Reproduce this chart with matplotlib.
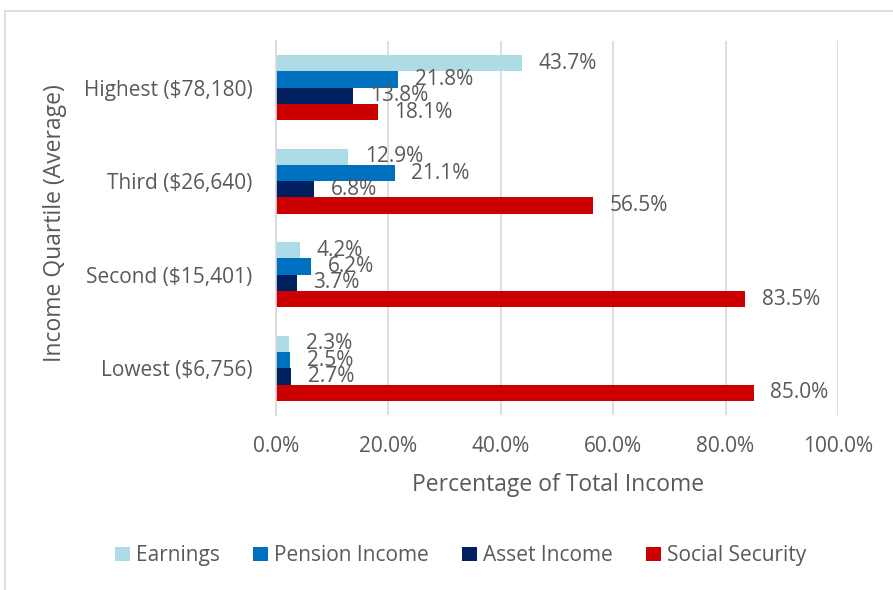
#!/usr/bin/env python3

import numpy as np
import matplotlib
matplotlib.use("Agg")
import matplotlib.pyplot as plt
from matplotlib.patches import Rectangle

# data (bottom to top on the chart)
quartiles = ["Lowest ($6,756)", "Second ($15,401)", "Third ($26,640)", "Highest ($78,180)"]
series = ["Earnings", "Pension Income", "Asset Income", "Social Security"]
earnings = [2.3, 4.2, 12.9, 43.7]
pension = [2.5, 6.2, 21.1, 21.8]
asset = [2.7, 3.7, 6.8, 13.8]
social_security = [85.0, 83.5, 56.5, 18.1]
colors = ["#ADDCE6", "#0070C0", "#002060", "#CC0000"]

plt.rcParams["font.family"] = ["Open Sans", "DejaVu Sans"]
text_color = "#595959"

fig = plt.figure(figsize=(8.93, 5.9), dpi=100)
ax = fig.add_axes([0.309, 0.2966, 0.6293, 0.634])

# light outer chart border
fig.patches.append(Rectangle((0.006, -0.01), 1.2, 0.991, transform=fig.transFigure,
                             fill=False, edgecolor="#D9D9D9", linewidth=1.2))

y = np.arange(len(quartiles))
h = 0.174
values = [earnings, pension, asset, social_security]
for i, (name, vals, c) in enumerate(zip(series, values, colors)):
    pos = y + (1.5 - i) * h
    ax.barh(pos, vals, height=h, color=c, label=name, zorder=3)
    for p, v in zip(pos, vals):
        ax.annotate(f"{v:.1f}%", (v, p), xytext=(12, 0), textcoords="offset points",
                    va="center", ha="left", fontsize=15, color=text_color, zorder=4)

ax.set_xlim(0, 100)
ax.set_ylim(-0.5, 3.5)
ax.set_xticks(np.arange(0, 101, 20))
ax.set_xticklabels([f"{t:.1f}%" for t in np.arange(0, 101, 20)])
ax.set_yticks(y)
ax.set_yticklabels(quartiles)
ax.tick_params(axis="both", length=0, labelsize=15, labelcolor=text_color)
ax.tick_params(axis="x", pad=15)
ax.tick_params(axis="y", pad=17)
ax.grid(axis="x", color="#D9D9D9", linewidth=1.2, zorder=0)
for s in ["top", "right", "bottom"]:
    ax.spines[s].set_visible(False)
ax.spines["left"].set_color("#D9D9D9")
ax.spines["left"].set_linewidth(1.2)
ax.spines["left"].set_zorder(5)

fig.text(0.625, 0.178, "Percentage of Total Income", ha="center", va="center",
         fontsize=16.5, color=text_color)
fig.text(0.062, 0.622, "Income Quartile (Average)", rotation=90, ha="center", va="center",
         fontsize=16.5, color=text_color)

fig.legend(loc="center", bbox_to_anchor=(0.516, 0.058), ncol=4, frameon=False,
           fontsize=15, handlelength=0.7, handleheight=0.7, handletextpad=0.3,
           columnspacing=1.6, labelcolor=text_color)

fig.savefig("out.png", dpi=100)
